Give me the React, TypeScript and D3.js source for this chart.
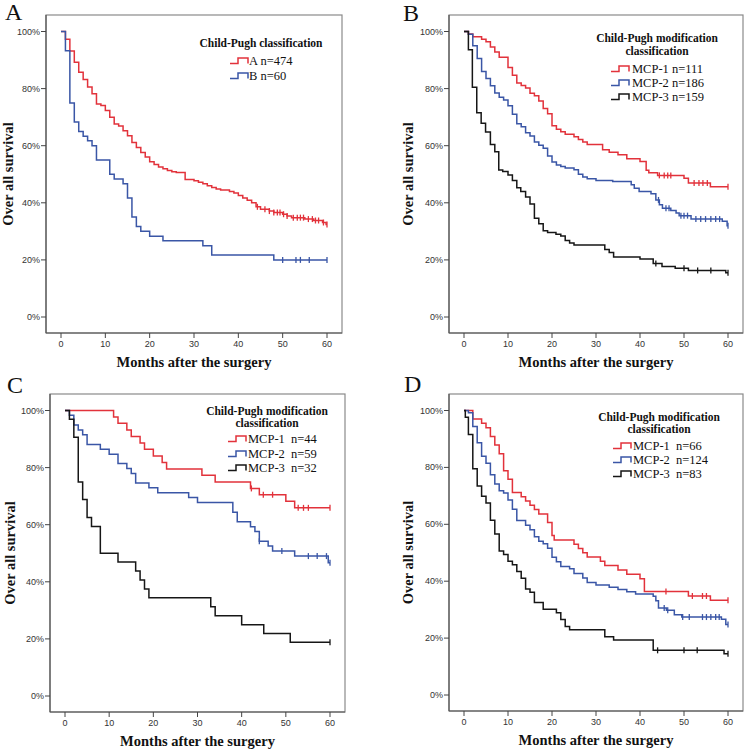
import React from "react";
import * as d3 from "d3";

// ---------- axis ticks ----------
const monthTicks = [0, 10, 20, 30, 40, 50, 60];
const pctTicks = [0, 20, 40, 60, 80, 100];

// ---------- titles / labels ----------
const panelLetters = ["A", "B", "C", "D"];
const xAxisTitle = "Months after the surgery";
const yAxisTitle = "Over all survival";
const legendTitleA = ["Child-Pugh classification"];
const legendTitleMod = ["Child-Pugh modification", "classification"];
const labelsA = ["A n=474", "B n=60"];
const labelsB = ["MCP-1 n=111", "MCP-2 n=186", "MCP-3 n=159"];
const labelsC = ["MCP-1  n=44", "MCP-2  n=59", "MCP-3  n=32"];
const labelsD = ["MCP-1  n=66", "MCP-2  n=124", "MCP-3  n=83"];

// ---------- Panel A ----------
const aRedT = [1, 2, 3, 4, 5, 6, 7, 8, 9, 10, 11, 12, 13, 14, 15, 16, 17, 18, 19, 20, 21, 22, 23, 24, 25, 26, 28, 30, 31, 32, 33, 34, 35, 36, 38, 39, 40, 41, 42, 43, 44, 45, 47, 48, 50, 51, 52, 55, 57, 59, 59.8];
const aRedS = [97.3, 93.2, 89.2, 85.7, 83.2, 80.6, 78.2, 74.6, 74.1, 72.3, 70.0, 67.6, 66.9, 65.2, 63.5, 61.1, 59.4, 57.6, 56.0, 54.4, 53.4, 52.5, 51.9, 51.3, 50.9, 50.6, 48.2, 47.7, 47.2, 46.7, 46.0, 45.4, 44.8, 44.5, 44.0, 43.4, 42.6, 41.7, 40.9, 40.0, 38.6, 37.7, 37.1, 36.6, 36.0, 35.4, 34.8, 34.3, 33.8, 33.1, 32.4];
const aRedC = [44.3, 46, 47, 48, 48.8, 49.4, 50.2, 51, 52.4, 53.3, 54, 54.7, 55.8, 56.7, 57.4, 58.1, 59.2, 60];
const aBlueT = [1, 2, 3, 4, 5, 6, 7, 8, 11, 12, 14, 15, 16, 17, 18, 20, 23, 32, 34, 48];
const aBlueS = [93.3, 75.0, 68.3, 65.0, 63.3, 61.7, 60.0, 55.0, 50.0, 48.3, 46.7, 41.7, 35.0, 31.7, 30.0, 28.3, 26.7, 25.0, 21.7, 20.0];
const aBlueC = [50, 53, 54, 56, 60];

// ---------- Panel B ----------
const bRedT = [1, 2, 4, 5, 6, 7, 8, 10, 11, 12, 13, 14, 15, 16, 17, 18, 19, 20, 21, 22, 23, 25, 26, 27, 28, 31.5, 33, 35, 37, 40, 41.4, 42, 44, 50, 51, 56];
const bRedS = [99.1, 98.2, 97.3, 96.4, 94.6, 92.8, 91.0, 87.4, 84.7, 82.0, 81.1, 80.2, 78.4, 77.5, 75.7, 73.0, 71.2, 67.0, 65.8, 64.9, 64.0, 63.1, 62.2, 61.3, 60.4, 58.6, 57.7, 56.8, 55.4, 54.5, 51.4, 50.5, 49.6, 48.6, 46.9, 45.6];
const bRedC = [44.4, 45.5, 46.3, 47, 52.3, 53.4, 54.3, 55.3, 60];
const bBlueT = [1, 2, 3, 4, 5, 6, 7, 8, 9, 10, 11, 12, 13, 14, 15, 16, 17, 18, 19, 20, 21, 22, 23, 25, 26, 27, 28, 30, 33.8, 38, 38.7, 39.8, 42.5, 43.6, 44.4, 45.1, 47, 48.2, 48.9, 51.6, 58.7, 59.8];
const bBlueS = [99.0, 95.0, 90.5, 86.0, 83.5, 81.0, 78.5, 77.0, 76.0, 74.0, 71.0, 67.7, 66.6, 64.5, 63.4, 61.3, 60.2, 59.1, 56.4, 54.3, 53.2, 52.7, 52.2, 51.6, 50.0, 49.0, 48.4, 47.8, 47.5, 46.3, 45.1, 44.0, 43.2, 41.0, 39.3, 38.1, 37.3, 36.4, 35.5, 34.3, 33.5, 32.0];
const bBlueC = [44.2, 45.9, 46.6, 49.3, 50.0, 50.8, 52.7, 53.8, 54.9, 56.1, 57.2, 58.1, 60];
const bBlackT = [1, 1.9, 2.9, 3.9, 4.9, 6, 7, 7.9, 8.8, 10, 11, 12, 12.9, 14, 15, 16, 17, 18, 19, 20.9, 22, 23, 24, 25, 32, 33, 34, 40, 43, 45, 48, 51, 59.5];
const bBlackS = [93.6, 80.5, 71.5, 67.9, 64.8, 60.4, 57.9, 51.5, 51.0, 49.7, 47.8, 45.3, 44.0, 42.0, 39.6, 34.6, 32.7, 30.2, 29.6, 29.0, 28.4, 26.8, 25.9, 25.2, 23.6, 22.6, 21.0, 20.3, 18.7, 17.7, 17.1, 16.3, 15.5];
const bBlackC = [43.6, 50, 53.1, 56.1, 60];

// ---------- Panel C ----------
const cRedT = [11, 12, 14, 15, 17, 18, 20, 22, 23, 31, 34, 42, 44, 50, 52];
const cRedS = [97.7, 95.5, 93.2, 90.9, 88.6, 86.4, 84.1, 81.8, 79.5, 77.3, 75.0, 72.7, 70.5, 68.2, 65.9];
const cRedC = [42.2, 44.9, 47, 52.8, 54, 55.1, 60];
const cBlueT = [1, 2, 3, 4, 5, 8, 10, 12, 14, 15, 16, 19, 21, 28, 30, 38, 39, 42, 43, 44, 46, 47, 52, 59.6];
const cBlueS = [98.3, 94.9, 93.2, 91.5, 88.1, 86.4, 84.7, 81.4, 79.7, 77.9, 74.6, 72.9, 71.2, 69.5, 67.8, 64.4, 61.0, 59.3, 57.6, 54.2, 52.5, 50.8, 49.0, 46.7];
const cBlueC = [44, 49.1, 55.1, 57.1, 59.2, 60];
const cBlackT = [1, 2, 3, 4, 5, 6, 8, 12, 16, 17, 18, 19, 33, 34, 40, 45, 51];
const cBlackS = [96.9, 90.6, 75.0, 68.8, 62.5, 59.4, 50.0, 46.9, 43.8, 40.6, 37.5, 34.4, 31.3, 28.1, 25.0, 21.9, 18.8];
const cBlackC = [60];

// ---------- Panel D ----------
const dRedT = [2, 4, 5, 6, 7, 8, 9, 10, 11, 13, 14, 15, 16, 17, 19, 20, 20.5, 25, 26, 27, 28, 31, 32, 35, 37, 40, 41, 51, 56];
const dRedS = [97.0, 95.5, 93.9, 90.9, 87.9, 84.8, 78.8, 75.8, 71.2, 69.7, 68.2, 66.7, 65.2, 63.6, 60.6, 56.1, 54.5, 53.0, 51.5, 50.0, 48.5, 47.0, 45.5, 43.9, 42.4, 40.9, 36.4, 34.8, 33.3];
const dRedC = [45.9, 51.9, 54.2, 55.1, 60];
const dBlueT = [1, 2, 3, 4, 5, 6, 7, 8, 9, 10, 11, 12, 14, 15, 16, 17, 18, 19, 20, 21, 22, 24, 25, 27, 28, 30, 33, 35, 37, 39, 43, 43.6, 44.2, 46, 47.8, 49.5, 58.5, 59.5];
const dBlueS = [99.2, 94.4, 88.7, 83.9, 81.5, 77.4, 74.2, 71.8, 71.0, 68.5, 65.3, 61.3, 59.7, 58.1, 55.6, 54.0, 53.2, 51.6, 48.4, 46.8, 45.2, 44.4, 42.7, 41.1, 39.5, 38.7, 37.9, 37.1, 36.3, 35.5, 34.7, 33.1, 30.6, 29.8, 28.2, 27.4, 26.6, 24.8];
const dBlueC = [45.5, 46.3, 49.7, 51.2, 54.2, 55.1, 56.1, 57.2, 58, 60];
const dBlackT = [0.3, 1, 2, 3, 4, 5, 6, 7, 8, 9, 10, 11, 12, 13, 14, 15, 16, 18, 21, 22, 23, 24, 32, 34, 43, 59.1];
const dBlackS = [97.6, 91.6, 79.5, 73.5, 69.9, 67.5, 61.4, 56.6, 50.6, 49.4, 47.0, 45.8, 43.4, 41.0, 37.3, 36.1, 32.5, 30.1, 28.9, 26.5, 24.1, 22.9, 20.5, 19.3, 15.7, 14.5];
const dBlackC = [44, 50, 53, 60];

const RED = "#e2323b";
const BLUE = "#3a56a6";
const BLACK = "#161616";

type Series = { t: number[]; s: number[]; c: number[]; color: string; label: string };

const panels = [
  {
    letter: panelLetters[0],
    frame: { x0: 46, y0: 15, x1: 342, y1: 333 },
    letterPos: [5, 20],
    yLabelX: 13,
    legend: { title: legendTitleA, cx: 215, titleY: [32], entryY: [50, 65], symX: 184, textX: 203 },
    series: [
      { t: aRedT, s: aRedS, c: aRedC, color: RED, label: labelsA[0] },
      { t: aBlueT, s: aBlueS, c: aBlueC, color: BLUE, label: labelsA[1] },
    ] as Series[],
  },
  {
    letter: panelLetters[1],
    frame: { x0: 449, y0: 15, x1: 743, y1: 333 },
    letterPos: [403, 21],
    yLabelX: 413,
    legend: { title: legendTitleMod, cx: 208, titleY: [27, 40], entryY: [58, 72, 86], symX: 162, textX: 183 },
    series: [
      { t: bRedT, s: bRedS, c: bRedC, color: RED, label: labelsB[0] },
      { t: bBlueT, s: bBlueS, c: bBlueC, color: BLUE, label: labelsB[1] },
      { t: bBlackT, s: bBlackS, c: bBlackC, color: BLACK, label: labelsB[2] },
    ] as Series[],
  },
  {
    letter: panelLetters[2],
    frame: { x0: 50, y0: 394, x1: 345, y1: 712 },
    letterPos: [7, 393],
    yLabelX: 15,
    legend: { title: legendTitleMod, cx: 217, titleY: [21, 33], entryY: [49, 64, 78], symX: 178, textX: 198 },
    series: [
      { t: cRedT, s: cRedS, c: cRedC, color: RED, label: labelsC[0] },
      { t: cBlueT, s: cBlueS, c: cBlueC, color: BLUE, label: labelsC[1] },
      { t: cBlackT, s: cBlackS, c: cBlackC, color: BLACK, label: labelsC[2] },
    ] as Series[],
  },
  {
    letter: panelLetters[3],
    frame: { x0: 449, y0: 394, x1: 743, y1: 711 },
    letterPos: [404, 392],
    yLabelX: 413,
    legend: { title: legendTitleMod, cx: 210, titleY: [27, 39], entryY: [56, 70, 84], symX: 164, textX: 184 },
    series: [
      { t: dRedT, s: dRedS, c: dRedC, color: RED, label: labelsD[0] },
      { t: dBlueT, s: dBlueS, c: dBlueC, color: BLUE, label: labelsD[1] },
      { t: dBlackT, s: dBlackS, c: dBlackC, color: BLACK, label: labelsD[2] },
    ] as Series[],
  },
];

const SERIF = "'Liberation Serif', 'Times New Roman', serif";
const SANS = "'Liberation Sans', Arial, sans-serif";

function valueAt(sr: Series, time: number) {
  let v = 100;
  for (let i = 0; i < sr.t.length; i++) {
    if (sr.t[i] <= time) v = sr.s[i];
  }
  return v;
}

function Panel({ p }: { p: (typeof panels)[number] }) {
  const { x0, y0, x1, y1 } = p.frame;
  const x = d3.scaleLinear().domain([0, 60]).range([x0 + 15, x1 - 15]);
  const y = d3.scaleLinear().domain([0, 100]).range([y1 - 16, y0 + 16.5]);
  const line = d3
    .line<[number, number]>()
    .x((d) => x(d[0]))
    .y((d) => y(d[1]))
    .curve(d3.curveStepAfter);

  return (
    <g>
      <text x={p.letterPos[0]} y={p.letterPos[1]} fontFamily={SERIF} fontSize={24} fill="#111">
        {p.letter}
      </text>
      <rect x={x0} y={y0} width={x1 - x0} height={y1 - y0} fill="none" stroke="#8a8a8a" strokeWidth={1.2} />
      <line x1={x0} x2={x0} y1={y0} y2={y1} stroke="#555" strokeWidth={1.2} />
      <line x1={x0} x2={x1} y1={y1} y2={y1} stroke="#555" strokeWidth={1.2} />
      {pctTicks.map((v) => (
        <g key={"y" + v}>
          <line x1={x0 - 5} x2={x0} y1={y(v)} y2={y(v)} stroke="#444" strokeWidth={1} />
          <text x={x0 - 6} y={y(v) + 3} textAnchor="end" fontFamily={SANS} fontSize={9} fill="#333">
            {v + "%"}
          </text>
        </g>
      ))}
      {monthTicks.map((m) => (
        <g key={"x" + m}>
          <line x1={x(m)} x2={x(m)} y1={y1} y2={y1 + 5} stroke="#444" strokeWidth={1} />
          <text x={x(m)} y={y1 + 14} textAnchor="middle" fontFamily={SANS} fontSize={9} fill="#333">
            {m}
          </text>
        </g>
      ))}
      <text
        x={(x0 + x1) / 2}
        y={y1 + 34}
        textAnchor="middle"
        fontFamily={SERIF}
        fontWeight="bold"
        fontSize={14.5}
        fill="#111"
      >
        {xAxisTitle}
      </text>
      <text
        transform={`translate(${p.yLabelX},${(y0 + y1) / 2}) rotate(-90)`}
        textAnchor="middle"
        fontFamily={SERIF}
        fontWeight="bold"
        fontSize={14.5}
        fill="#111"
      >
        {yAxisTitle}
      </text>
      {p.series.map((sr, i) => {
        const end = Math.max(60, ...sr.c);
        const pts: [number, number][] = [[0, 100], ...sr.t.map((t, j) => [t, sr.s[j]] as [number, number]), [end, sr.s[sr.s.length - 1]]];
        return (
          <g key={"s" + i}>
            <path d={line(pts) || ""} fill="none" stroke={sr.color} strokeWidth={1.5} />
            {sr.c.map((c, k) => (
              <line
                key={k}
                x1={x(c)}
                x2={x(c)}
                y1={y(valueAt(sr, c)) - 3}
                y2={y(valueAt(sr, c)) + 3}
                stroke={sr.color}
                strokeWidth={1.3}
              />
            ))}
          </g>
        );
      })}
      {p.legend.title.map((tt, i) => (
        <text
          key={"lt" + i}
          x={x0 + p.legend.cx}
          y={y0 + p.legend.titleY[i]}
          textAnchor="middle"
          fontFamily={SERIF}
          fontWeight="bold"
          fontSize={11.5}
          fill="#111"
        >
          {tt}
        </text>
      ))}
      {p.series.map((sr, i) => {
        const by = y0 + p.legend.entryY[i];
        const sx = x0 + p.legend.symX;
        return (
          <g key={"le" + i}>
            <path
              d={`M${sx},${by - 1.5} H${sx + 8} V${by - 7} H${sx + 18} V${by - 1.5}`}
              fill="none"
              stroke={sr.color}
              strokeWidth={1.5}
            />
            <text x={x0 + p.legend.textX} y={by} fontFamily={SERIF} fontSize={12.5} fill="#111" style={{ whiteSpace: "pre" }}>
              {sr.label}
            </text>
          </g>
        );
      })}
    </g>
  );
}

export default function App() {
  return (
    <svg width={747} height={753} style={{ position: "absolute", left: 0, top: 0, background: "#fff" }}>
      <rect width={747} height={753} fill="#fff" />
      {panels.map((p, i) => (
        <Panel key={i} p={p} />
      ))}
    </svg>
  );
}
